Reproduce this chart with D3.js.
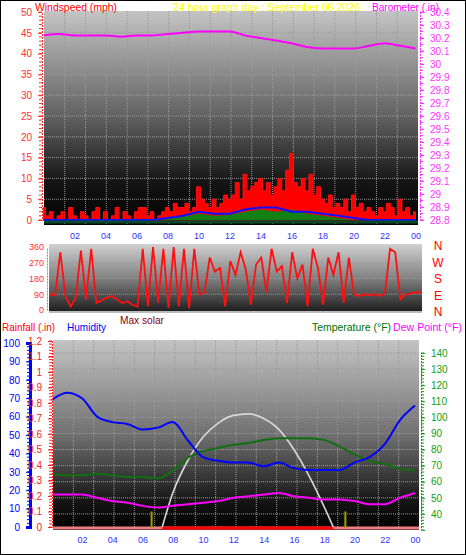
<!DOCTYPE html>
<html><head><meta charset="utf-8">
<script src="https://cdn.jsdelivr.net/npm/d3@7"></script>
<style>body{margin:0;background:#fff}svg{display:block;font-family:"Liberation Sans",Arial,sans-serif}</style>
</head><body><svg id="c" width="466" height="555"></svg>
<script>
// wind gust, 15 minute steps 00:00 .. 24:00
const gust = [3,1,2,0,1,2,0,3, 1,0,2,1,0,2,3,0, 2,0,1,3,0,2,1,0, 2,3,3,1,2,0,1,2,
  3,2,4,3,3,4,2,3, 8,5,4,3,5,3,4,6, 5,6,9,5,11,7,8,9, 10,7,9,6,8,10,7,12,
  16,9,8,10,7,11,6,8, 5,4,6,3,4,3,5,2, 6,3,4,2,3,2,1,3, 2,4,3,1,5,2,3,1, 2];
// hourly
const avgWind = [0,0,0,0,0,0,0,0,0.5,1,2,1.5,1.5,2.5,3,3,2,2,1.5,1,0.5,0,0,0,0];
const greenWind = [0,0,0,0,0,0,0,0,0.3,0.8,1.5,1,1.2,2,2.5,2,2.5,1.5,1,0.5,0,0,0,0,0];
const baro = [30.22,30.23,30.22,30.22,30.22,30.21,30.22,30.22,30.23,30.24,30.25,30.25,30.25,
  30.22,30.20,30.18,30.16,30.13,30.12,30.12,30.12,30.14,30.16,30.14,30.12];
// wind direction, 20 minute steps
const windDir = [90,85,330,80,20,70,340,60,350,40,55,70,80,60,40,50,30,20,350,20,360,40,350,10,
  360,20,350,10,350,90,100,300,220,240,20,280,200,330,230,30,260,300,100,350,220,250,40,330,
  180,260,20,350,240,30,300,200,330,40,300,90,80,90,85,90,80,95,350,330,60,90,95,100,100];
const humidity = [69,73,70,60,57,56,53,54,57,47,38,36,35,35,33,35,32,31,31,31,35,38,45,58,66];
const temperature = [65,64,64,65,64,63,63,62,67,75,79,81,83,84,86,87,87,87,86,82,77,73,71,68,67];
const dewPoint = [52,52,52,50,48,47,45,44,45,46,47,48,50,51,52,53,51,50,49,49,48,46,46,50,53];
const solar = [[7.3,0],[8,0.22],[9,0.43],[10,0.58],[11,0.67],[12,0.72],[13,0.73],[14,0.7],
  [15,0.63],[16,0.5],[17,0.33],[18,0.13],[18.6,0]];
const sunEvents = [6.6, 19.4];
const hourTicks = [2,4,6,8,10,12,14,16,18,20,22,24];
const hourLabels = ["02","04","06","08","10","12","14","16","18","20","22","00"];
const compass = ["N","W","S","E","N"];

const svg = d3.select("#c");
svg.append("rect").attr("x",0.5).attr("y",0.5).attr("width",465).attr("height",554).attr("fill","#fff").attr("stroke","#000");
const defs = svg.append("defs");
function grad(id, stops) {
  const g = defs.append("linearGradient").attr("id", id).attr("x1",0).attr("x2",0).attr("y1",0).attr("y2",1);
  stops.forEach(([o,c]) => g.append("stop").attr("offset", o).attr("stop-color", c));
}
grad("g1", [[0,"#c4c4c4"],[0.5,"#606060"],[0.8,"#151515"],[1,"#000"]]);
grad("g2", [[0,"#d0d0d0"],[0.5,"#808080"],[1,"#1a1a1a"]]);
grad("g3", [[0,"#c4c4c4"],[0.5,"#707070"],[0.85,"#151515"],[1,"#000"]]);

function text(x, y, s, color, size, len) {
  const t = svg.append("text").attr("x", x).attr("y", y).attr("fill", color)
    .style("font-size", (size || 10) + "px").text(s);
  if (len) t.attr("textLength", len).attr("lengthAdjust", "spacingAndGlyphs");
}
function grid(x0, x1, y0, y1, nx, ys) {
  const g = svg.append("g").attr("stroke", "#9a9a9a").attr("stroke-dasharray", "1,1").attr("stroke-width", 1);
  for (let i = 1; i < nx; i++) { const x = x0 + (x1 - x0) * i / nx; g.append("line").attr("x1",x).attr("x2",x).attr("y1",y0).attr("y2",y1); }
  ys.forEach(y => g.append("line").attr("x1",x0).attr("x2",x1).attr("y1",y).attr("y2",y));
}
function dotAxis(axis, pos, scale, color, ticks, minor) {
  const g = svg.append("g").attr("transform", `translate(${pos},0)`)
    .call((axis === "left" ? d3.axisLeft(scale) : d3.axisRight(scale)).tickValues(ticks).tickSize(4).tickPadding(6).tickFormat(d => +d.toFixed(2)));
  g.select(".domain").attr("stroke", color).attr("stroke-dasharray", "2,1");
  g.selectAll(".tick line").attr("stroke", color);
  g.selectAll("text").attr("fill", color).style("font-size", "10px").attr("font-family", "Liberation Sans");
  svg.append("g").selectAll("line").data(minor).join("line")
    .attr("x1", axis === "left" ? pos - 3 : pos).attr("x2", axis === "left" ? pos : pos + 3)
    .attr("y1", d => scale(d)).attr("y2", d => scale(d)).attr("stroke", color);
  return g;
}

// ---------- top panel: wind & barometer ----------
const x1 = d3.scaleLinear().domain([0, 24]).range([43.5, 415.5]);
const yW = d3.scaleLinear().domain([0, 50]).range([220, 12]);
const yB = d3.scaleLinear().domain([28.8, 30.4]).range([220, 12]);
svg.append("rect").attr("x",44).attr("y",11).attr("width",374).attr("height",214).attr("fill","url(#g1)");
grid(44, 418, 11, 225, 18, d3.range(5, 50, 5).map(yW));
svg.append("path").datum(gust).attr("fill", "#ff0000").attr("stroke", "#ff1010").attr("stroke-width", 1)
  .attr("d", d3.area().curve(d3.curveStep).x((d, i) => x1(i / 4)).y0(yW(0)).y1(d => yW(d)));
svg.append("path").datum(greenWind).attr("fill", "#128012")
  .attr("d", d3.area().x((d, i) => x1(i)).y0(yW(0)).y1(d => yW(d)));
svg.append("path").datum(avgWind).attr("fill", "none").attr("stroke", "#1010ff").attr("stroke-width", 2)
  .attr("d", d3.line().x((d, i) => x1(i)).y(d => yW(d)));
svg.append("line").attr("x1",44).attr("x2",418).attr("y1",yW(0)+2).attr("y2",yW(0)+2).attr("stroke","#0a4a2a").attr("stroke-width",3);
svg.append("path").datum(baro).attr("fill", "none").attr("stroke", "#ff00ff").attr("stroke-width", 2)
  .attr("d", d3.line().curve(d3.curveMonotoneX).x((d, i) => x1(i)).y(d => yB(d)));
dotAxis("left", 42, yW, "#ff3030", d3.range(0, 51, 5), d3.range(0, 51, 1));
dotAxis("right", 420, yB, "#ff33ff", d3.range(28.8, 30.41, 0.1), d3.range(28.8, 30.41, 0.05));
const xa1 = svg.append("g").attr("transform", "translate(0,225)")
  .call(d3.axisBottom(x1).tickValues(hourTicks).tickSize(0).tickPadding(8).tickFormat((d, i) => hourLabels[i]));
xa1.select(".domain").remove();
xa1.selectAll("text").attr("fill", "#3030ff").style("font-size", "9px");
text(35, 11, "Windspeed (mph)", "#ff0000", 11, 82);
text(173, 11, "24 hour graph day : September 06 2026", "#ffff00", 11, 187);
text(372, 11, "Barometer (.in)", "#ff00ff", 11, 67);

// ---------- middle panel: wind direction ----------
const x2 = d3.scaleLinear().domain([0, 24]).range([50, 421]);
const yD = d3.scaleLinear().domain([0, 360]).range([310, 247]);
svg.append("rect").attr("x",49).attr("y",244).attr("width",373).attr("height",69).attr("fill","url(#g2)");
grid(49, 422, 244, 313, 1, [270, 180, 90].map(yD));
svg.append("line").attr("x1",49).attr("x2",422).attr("y1",312).attr("y2",312).attr("stroke","#bbb").attr("stroke-width",2);
svg.append("path").datum(windDir).attr("fill", "none").attr("stroke", "#ff1010").attr("stroke-width", 1.8)
  .attr("d", d3.line().x((d, i) => x2(i / 3)).y(d => yD(d)));
const da = svg.append("g").attr("transform", "translate(47,0)")
  .call(d3.axisLeft(yD).tickValues([0, 90, 180, 270, 360]).tickSize(0).tickPadding(3));
da.select(".domain").attr("stroke", "#ff6060").attr("stroke-dasharray", "2,1");
da.selectAll("text").attr("fill", "#ff3030").style("font-size", "9px");
compass.forEach((c, i) => svg.append("text").attr("x", 438).attr("y", 250 + i * 16.5).attr("text-anchor", "middle")
  .attr("fill", "#ff0000").style("font-size", "12px").text(c));
text(120, 324, "Max solar", "#800020", 11, 44);

// ---------- bottom panel ----------
text(2, 331, "Rainfall (.in)", "#ff0000", 11, 53);
text(67, 331, "Humidity", "#0000ff", 11, 39);
text(312, 331, "Temperature (°F)", "#007000", 11, 79);
text(393, 331, "Dew Point (°F)", "#ff00ff", 11, 69);
const x3 = d3.scaleLinear().domain([0, 24]).range([51.7, 415]);
const yH = d3.scaleLinear().domain([0, 100]).range([527, 343]);
const yR = d3.scaleLinear().domain([0, 1.2]).range([527, 341]);
const yT = d3.scaleLinear().domain([30, 140]).range([530, 353]);
svg.append("rect").attr("x",53).attr("y",340).attr("width",366).attr("height",190).attr("fill","url(#g3)");
grid(53, 419, 340, 530, 18, d3.range(40, 141, 10).map(yT));
svg.append("line").attr("x1",53).attr("x2",419).attr("y1",528).attr("y2",528).attr("stroke","#f08080").attr("stroke-width",3);
svg.append("line").attr("x1",x3(solar[0][0])).attr("x2",x3(solar[solar.length-1][0])).attr("y1",528).attr("y2",528).attr("stroke","#ff0000").attr("stroke-width",3);
svg.append("g").selectAll("line").data(sunEvents).join("line")
  .attr("x1", d => x3(d)).attr("x2", d => x3(d)).attr("y1", yR(0.1)).attr("y2", 528)
  .attr("stroke", "#a0a000").attr("stroke-width", 2);
svg.append("path").datum(solar).attr("fill", "none").attr("stroke", "#d8d8d8").attr("stroke-width", 1.6)
  .attr("d", d3.line().curve(d3.curveMonotoneX).x(d => x3(d[0])).y(d => yR(d[1])));
const lineH = (data, ys) => d3.line().curve(d3.curveMonotoneX).x((d, i) => x3(i)).y(d => ys(d))(data);
svg.append("path").attr("d", lineH(temperature, yT)).attr("fill", "none").attr("stroke", "#107010").attr("stroke-width", 2);
svg.append("path").attr("d", lineH(dewPoint, yT)).attr("fill", "none").attr("stroke", "#ff00ff").attr("stroke-width", 2);
svg.append("path").attr("d", lineH(humidity, yH)).attr("fill", "none").attr("stroke", "#0000ff").attr("stroke-width", 2);
const ha = dotAxis("left", 30, yH, "#0000ff", d3.range(0, 101, 10), d3.range(0, 101, 2));
ha.select(".domain").attr("stroke-dasharray", null).attr("stroke-width", 3);
dotAxis("left", 52, yR, "#ff2020", d3.range(0, 1.21, 0.1), d3.range(0, 1.21, 0.02));
dotAxis("right", 421, yT, "#10a010", d3.range(40, 141, 10), d3.range(30, 141, 2));
const xa3 = svg.append("g").attr("transform", "translate(0,530)")
  .call(d3.axisBottom(x3).tickValues(hourTicks).tickSize(0).tickPadding(7).tickFormat((d, i) => hourLabels[i]));
xa3.select(".domain").remove();
xa3.selectAll("text").attr("fill", "#3030ff").style("font-size", "9px");
</script></body></html>
